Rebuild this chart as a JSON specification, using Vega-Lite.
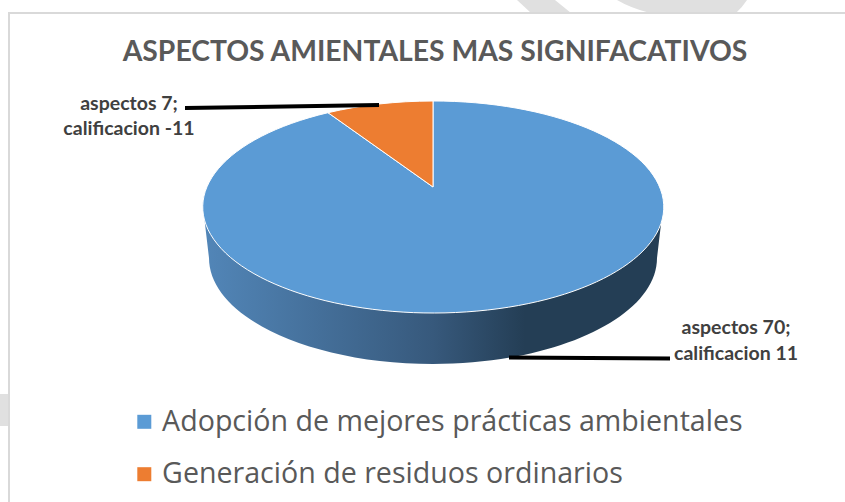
{
"$schema":"https://vega.github.io/schema/vega-lite/v6.json",
"width":845,"height":502,"padding":0,"autosize":{"type":"none"},
"background":"white",
"view":{"stroke":null},
"title":{"text":"ASPECTOS AMIENTALES MAS SIGNIFACATIVOS","font":"Lato","fontWeight":"bold","fontSize":28.3,"color":"#595959","anchor":"middle","frame":"group","orient":"top","offset":0,"baseline":"alphabetic","dy":89,"dx":12.5},
"data":{"values":[
{"categoria":"Adopción de mejores prácticas ambientales","aspectos":70,"calificacion":11,"etiqueta":["aspectos 70;","calificacion 11"]},
{"categoria":"Generación de residuos ordinarios","aspectos":7,"calificacion":-11,"etiqueta":["aspectos  7;","calificacion -11"]}
]},
"resolve":{"scale":{"shape":"independent"}},
"layer":[
{"transform":[{"filter":"datum.aspectos == 70"}],
 "mark":{"type":"point","filled":true,"size":4,"opacity":1,"fill":"#e0e0e0","shape":"M94.5,-251 L132.5,-251 L148.5,-238 L108.5,-238 Z M194.5,-251 L324.5,-251 Q320,-244 313.5,-238 L227.5,-238 Q208,-243 194.5,-251 Z M-422.5,143 L-414,143 L-414,175 L-422.5,175 Z"}},
{"transform":[{"filter":"datum.aspectos == 70"}],
 "mark":{"type":"point","filled":false,"size":4,"opacity":1,"stroke":"#d9d9d9","strokeWidth":2,"shape":"M422.5,-238 L-413.5,-238 L-413.5,251"}},
{"transform":[{"filter":"datum.aspectos == 70"}],
 "mark":{"type":"point","filled":true,"size":4,"opacity":1,"shape":"M-219.5,-44 L-213.5,7 A224 106 0 0 0 234.5,7 L240.5,-44 Z",
  "fill":{"gradient":"linear","x1":0,"y1":0,"x2":1,"y2":0,"stops":[{"offset":0,"color":"#5286b8"},{"offset":0.5,"color":"#37597c"},{"offset":0.7,"color":"#243e55"},{"offset":1,"color":"#243e55"}]}}},
{"mark":{"type":"point","filled":true,"size":4,"opacity":1,"stroke":"#ffffff","strokeWidth":1},
 "encoding":{
  "color":{"field":"categoria","type":"nominal","title":null,"scale":{"range":["#5b9bd5","#ed7d31"]},
   "legend":{"orient":"none","legendX":130,"legendY":407.5,"symbolType":"square","symbolSize":196,"symbolStrokeWidth":0,"labelFont":"Open Sans","labelFontSize":28.6,"labelColor":"#595959","labelLimit":700,"rowPadding":23.4,"labelOffset":3.5,"padding":0}},
  "shape":{"field":"categoria","type":"nominal","legend":null,"scale":{"range":["M10.5,-64 L10.5,-150 A230.5 106 0 1 1 -94.5,-138.3 Z","M10.5,-64 L-94.5,-138.3 A230.5 106 0 0 1 10.5,-150 Z"]}}
 }},
{"mark":{"type":"point","filled":false,"size":4,"opacity":1,"stroke":"#000000","strokeWidth":4},
 "encoding":{
  "shape":{"field":"categoria","type":"nominal","legend":null,"scale":{"range":["M86.5,106.5 L247.5,107.5","M-237.5,-143 L-43.5,-146"]}}
 }},
{"transform":[{"filter":"datum.aspectos == 70"}],
 "mark":{"type":"text","font":"Lato","fontWeight":"bold","fontSize":19.5,"color":"#404040","align":"center","baseline":"middle","lineHeight":26,"dx":313.5,"dy":77},
 "encoding":{"text":{"field":"etiqueta"}}},
{"transform":[{"filter":"datum.aspectos == 7"}],
 "mark":{"type":"text","font":"Lato","fontWeight":"bold","fontSize":19.5,"color":"#404040","align":"center","baseline":"middle","lineHeight":25,"dx":-293.5,"dy":-147},
 "encoding":{"text":{"field":"etiqueta"}}}
]
}
